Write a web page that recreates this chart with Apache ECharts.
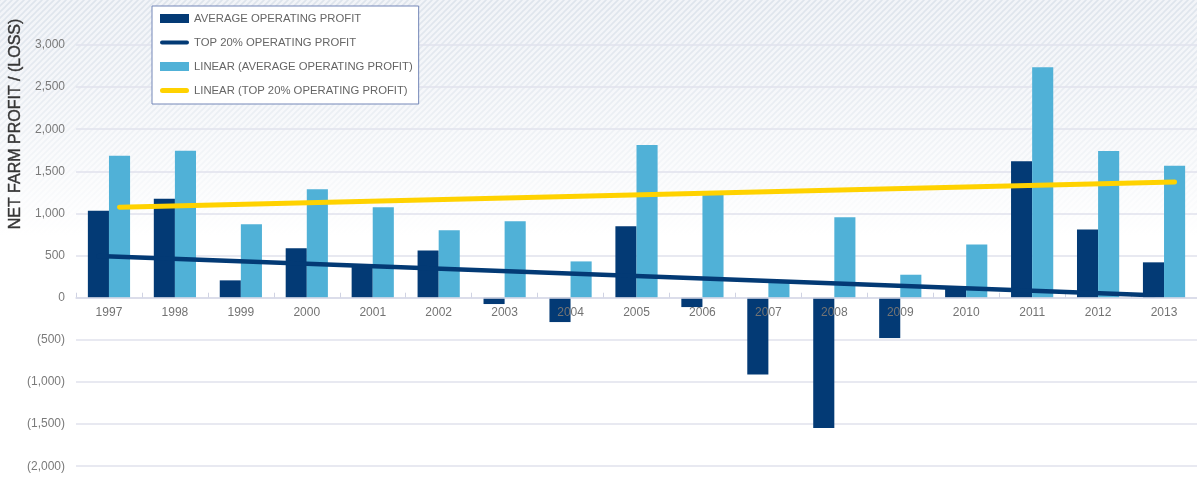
<!DOCTYPE html>
<html>
<head>
<meta charset="utf-8">
<script src="https://cdn.jsdelivr.net/npm/echarts@6/dist/echarts.min.js"></script>
<style>
  html, body { margin: 0; padding: 0; background: #ffffff; }
  #chart { width: 1197px; height: 480px; }
</style>
</head>
<body>
<div id="chart"></div>
<script>
// ---- data ----
const years = ['1997','1998','1999','2000','2001','2002','2003','2004','2005','2006','2007','2008','2009','2010','2011','2012','2013'];
const avgProfit = [1033, 1176, 206, 586, 364, 562, -75, -289, 847, -111, -911, -1548, -479, 110, 1619, 811, 420];
const top20Profit = [1686, 1746, 871, 1287, 1073, 800, 907, 431, 1813, 1227, 175, 954, 273, 633, 2737, 1742, 1567];
const trendAvgEnds = [495, 28];     // dark trend line: value at first and last year
const trendTopEnds = [1075, 1375];  // yellow trend line: value at first and last year
const yMin = -2000, yMax = 3000, yStep = 500;

const names = [
  'AVERAGE OPERATING PROFIT',
  'TOP 20% OPERATING PROFIT',
  'LINEAR (AVERAGE OPERATING PROFIT)',
  'LINEAR (TOP 20% OPERATING PROFIT)'
];

const DARK = '#033a75', LIGHT = '#50b1d7', YELLOW = '#ffd200';
const FONT = '"Liberation Sans", Arial, sans-serif';

// hatch pattern for the top background
const pat = document.createElement('canvas');
pat.width = 6; pat.height = 6;
const c = pat.getContext('2d');
c.fillStyle = '#f2f4f8'; c.fillRect(0, 0, 6, 6);
c.strokeStyle = '#dee4ec'; c.lineWidth = 1.6;
c.beginPath();
c.moveTo(-1, 7); c.lineTo(7, -1);
c.moveTo(-1, 1); c.lineTo(1, -1);
c.moveTo(5, 7); c.lineTo(7, 5);
c.stroke();

const barGapFrac = 0.36;                         // barCategoryGap
const half = (1 - barGapFrac) / 4;               // offset of each bar centre from category centre
const last = years.length - 1;

const GRID = { left: 76, top: 45, width: 1125, height: 421.2 };
// distance from grid bottom up to the zero line (category axis sits on zero)
const zeroOffset = -GRID.height * (0 - yMin) / (yMax - yMin);

function fmt(v) {
  if (v === 0) return '0';
  const s = Math.abs(v).toLocaleString('en-US');
  return v < 0 ? '(' + s + ')' : s;
}

const chart = echarts.init(document.getElementById('chart'), null, { renderer: 'canvas' });
chart.setOption({
  animation: false,
  textStyle: { fontFamily: FONT },
  graphic: [
    { type: 'rect', z: -100, silent: true,
      shape: { x: 0, y: 0, width: 1197, height: 235 },
      style: { fill: { image: pat, repeat: 'repeat' } } },
    { type: 'rect', z: -99, silent: true,
      shape: { x: 0, y: 0, width: 1197, height: 236 },
      style: { fill: { type: 'linear', x: 0, y: 0, x2: 0, y2: 1,
        colorStops: [ { offset: 0, color: 'rgba(255,255,255,0)' },
                      { offset: 0.35, color: 'rgba(255,255,255,0.25)' },
                      { offset: 1, color: 'rgba(255,255,255,1)' } ] } } },
    { type: 'text', x: 16, y: 124, rotation: Math.PI / 2, z: 10,
      style: { text: 'NET FARM PROFIT / (LOSS)', fill: '#363636', fontSize: 16,
               stroke: '#363636', lineWidth: 0.4,
               fontFamily: FONT, align: 'center', verticalAlign: 'middle' } }
  ],
  grid: GRID,
  legend: {
    orient: 'vertical', left: 152, top: 6,
    padding: [5.5, 6, 6.5, 8],
    backgroundColor: '#ffffff', borderColor: '#7587b8', borderWidth: 1,
    itemWidth: 29, itemHeight: 9, itemGap: 10,
    textStyle: { color: '#666666', fontSize: 11.3, lineHeight: 14, fontFamily: FONT },
    data: [
      { name: names[0], icon: 'rect' },
      { name: names[1], icon: 'path://M2,0H27A2,2,0,0,1,27,4H2A2,2,0,0,1,2,0Z', itemStyle: { borderWidth: 0 } },
      { name: names[2], icon: 'rect' },
      { name: names[3], icon: 'path://M2.5,0H26.5A2.5,2.5,0,0,1,26.5,5H2.5A2.5,2.5,0,0,1,2.5,0Z', itemStyle: { borderWidth: 0 } }
    ]
  },
  xAxis: [
    { type: 'category', data: years, position: 'bottom', offset: zeroOffset, z: 10,
      axisLine: { onZero: false, lineStyle: { color: '#d6d9e7', width: 1.5 } },
      axisTick: { length: 4, lineStyle: { color: '#d0d3e3', width: 1 } },
      axisLabel: { color: '#737373', fontSize: 12, margin: 9, fontFamily: FONT },
      splitLine: { show: false } },
    { type: 'value', min: -0.5, max: last + 0.5, interval: 1, position: 'bottom',
      axisLine: { onZero: true, onZeroAxisIndex: 1, lineStyle: { opacity: 0 } },
      axisTick: { show: true, inside: true, length: 5, lineStyle: { color: '#d0d3e3', width: 1 } },
      axisLabel: { show: false }, splitLine: { show: false } }
  ],
  yAxis: [
    { type: 'value', min: yMin, max: yMax, interval: yStep,
      axisLine: { show: false }, axisTick: { show: false },
      splitLine: { lineStyle: { color: '#e0e2ed', width: 1.5 } },
      axisLabel: { color: '#7a7a7a', fontSize: 12, margin: 11, formatter: fmt, fontFamily: FONT } },
    { type: 'value', min: yMin, max: yMax, interval: yStep, position: 'left',
      axisLine: { show: false }, axisTick: { show: false },
      axisLabel: { show: false }, splitLine: { show: false } }
  ],
  series: [
    { name: names[0], type: 'bar', xAxisIndex: 0, yAxisIndex: 0, data: avgProfit,
      itemStyle: { color: DARK }, barGap: '0%', barCategoryGap: (barGapFrac * 100) + '%' },
    { name: names[1], type: 'line', xAxisIndex: 1, yAxisIndex: 1, z: 3, symbol: 'none',
      data: [[0 - half, trendAvgEnds[0]], [last - half, trendAvgEnds[1]]],
      itemStyle: { color: DARK },
      lineStyle: { color: DARK, width: 4.5, cap: 'round' } },
    { name: names[2], type: 'bar', xAxisIndex: 0, yAxisIndex: 0, data: top20Profit,
      itemStyle: { color: LIGHT }, barGap: '0%', barCategoryGap: (barGapFrac * 100) + '%' },
    { name: names[3], type: 'line', xAxisIndex: 1, yAxisIndex: 1, z: 4, symbol: 'none',
      data: [[0 + half, trendTopEnds[0]], [last + half, trendTopEnds[1]]],
      itemStyle: { color: YELLOW },
      lineStyle: { color: YELLOW, width: 5, cap: 'round' } }
  ]
});
</script>
</body>
</html>
